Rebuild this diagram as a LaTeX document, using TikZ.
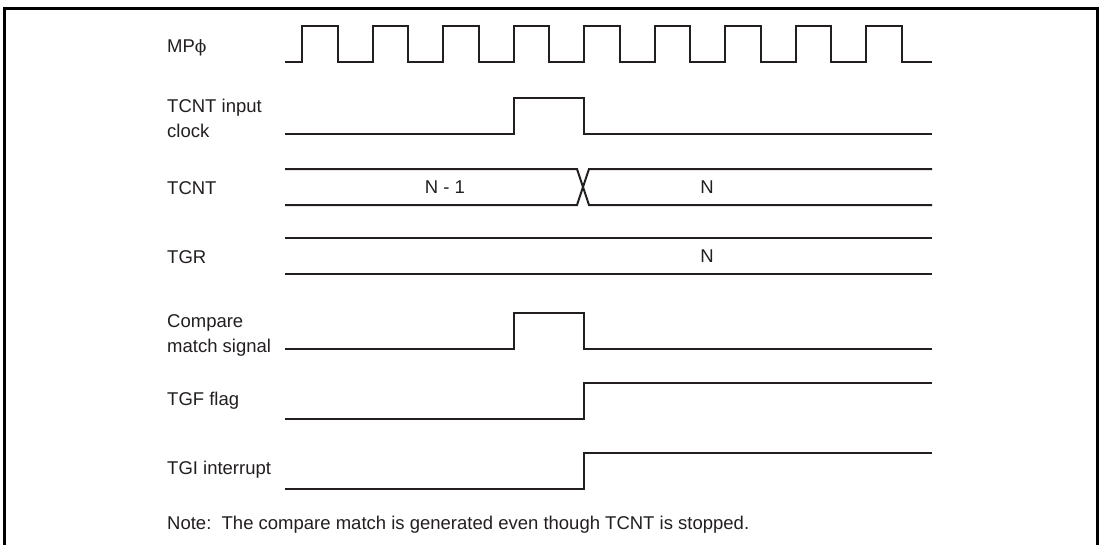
\documentclass[tikz,border=0pt]{standalone}
\usepackage{fontspec}
\setmainfont{Liberation Sans}
\newfontfamily\phifont{DejaVu Serif}
\definecolor{ink}{HTML}{231F20}
\begin{document}
\begin{tikzpicture}[x=1pt,y=-1pt,
  wave/.style={draw=ink,line width=2pt,line join=miter},
  lbl/.style={anchor=base west,inner sep=0pt,text=ink,font=\fontsize{18.5}{22}\selectfont},
  val/.style={anchor=center,inner sep=0pt,text=ink,font=\fontsize{18.5}{22}\selectfont}]
\useasboundingbox (0,0) rectangle (1100,544);
\clip (0,0) rectangle (1100,544);
\fill[white] (0,0) rectangle (1100,544);
\draw[draw=black,line width=3pt] (4,8) rectangle (1097,600);
% labels
\node[lbl] (lclk) at (167,52) {MP{\phifont\fontsize{17}{20}\selectfont ϕ}};
\node[lbl] (lin1) at (167,112) {TCNT input};
\node[lbl] (lin2) at (167,137) {clock};
\node[lbl] (ltcnt) at (167,194) {TCNT};
\node[lbl] (ltgr) at (167,263) {TGR};
\node[lbl] (lcm1) at (167,327) {Compare};
\node[lbl] (lcm2) at (167,352) {match signal};
\node[lbl] (ltgf) at (167,405) {TGF flag};
\node[lbl] (ltgi) at (167,474) {TGI interrupt};
\node[lbl] (note) at (167,529) {Note:\ \ The compare match is generated even though TCNT is stopped.};
% MP phi clock
\draw[wave] (285,62) -- (302,62) -- (302,26) -- (337.5,26) -- (337.5,62) -- (372.5,62) -- (372.5,26) -- (408,26) -- (408,62) -- (443,62) -- (443,26) -- (478.5,26) -- (478.5,62) -- (513.5,62) -- (513.5,26) -- (549,26) -- (549,62) -- (584,62) -- (584,26) -- (619.5,26) -- (619.5,62) -- (654.5,62) -- (654.5,26) -- (690,26) -- (690,62) -- (725,62) -- (725,26) -- (760.5,26) -- (760.5,62) -- (795.5,62) -- (795.5,26) -- (831,26) -- (831,62) -- (866,62) -- (866,26) -- (901.5,26) -- (901.5,62) -- (932,62);
% TCNT input clock
\draw[wave] (285,134) -- (513.5,134) -- (513.5,98) -- (584,98) -- (584,134) -- (932,134);
% TCNT bus
\draw[wave] (285,169) -- (577,169) -- (589,205) -- (932,205);
\draw[wave] (285,205) -- (577,205) -- (589,169) -- (932,169);
\node[val] (vn1) at (445,187) {N - 1};
\node[val] (vn) at (707,187) {N};
% TGR bus
\draw[wave] (285,238) -- (932,238);
\draw[wave] (285,274) -- (932,274);
\node[val] (vtgr) at (707,256) {N};
% compare match
\draw[wave] (285,349) -- (513.5,349) -- (513.5,313) -- (584,313) -- (584,349) -- (932,349);
% TGF flag
\draw[wave] (285,419) -- (584,419) -- (584,383) -- (932,383);
% TGI interrupt
\draw[wave] (285,489) -- (584,489) -- (584,453) -- (932,453);
\end{tikzpicture}
\end{document}
